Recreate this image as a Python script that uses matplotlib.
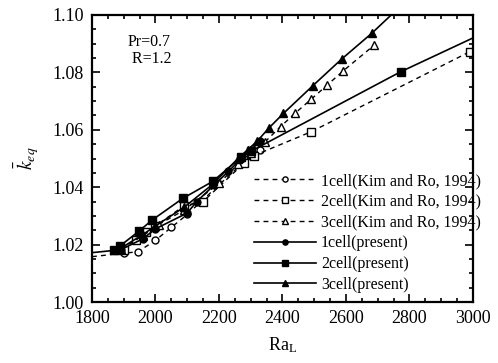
import matplotlib
matplotlib.use('Agg')
import matplotlib.pyplot as plt
from matplotlib.ticker import MultipleLocator

# Kim and Ro (1994), dashed with open markers
ra_1c_kim = [1800, 1900, 1945, 2000, 2050, 2100, 2270, 2300, 2330]
k_1c_kim = [1.0158, 1.0170, 1.0175, 1.0215, 1.0260, 1.0305, 1.0480, 1.0510, 1.0530]

ra_2c_kim = [1900, 1940, 1970, 2000, 2090, 2150, 2280, 2310, 2490, 2990]
k_2c_kim = [1.0180, 1.0215, 1.0245, 1.0265, 1.0335, 1.0350, 1.0485, 1.0510, 1.0593, 1.0872]

ra_3c_kim = [1890, 1960, 2010, 2090, 2200, 2260, 2300, 2345, 2394, 2439, 2490, 2541, 2591, 2689]
k_3c_kim = [1.0185, 1.0230, 1.0270, 1.0320, 1.0413, 1.0480, 1.0520, 1.0558, 1.0611, 1.0657, 1.0706, 1.0756, 1.0805, 1.0895]

# present results, solid with filled markers
ra_1c = [1800, 1890, 1960, 2000, 2100, 2130, 2230, 2270, 2300, 2330]
k_1c = [1.0172, 1.0182, 1.0220, 1.0255, 1.0310, 1.0350, 1.0455, 1.0500, 1.0530, 1.0560]

ra_2c = [1870, 1888, 1948, 1990, 2086, 2180, 2270, 2300, 2772, 3000]
k_2c = [1.0180, 1.0195, 1.0247, 1.0286, 1.0361, 1.0420, 1.0505, 1.0525, 1.0802, 1.0920]

ra_3c = [1880, 1960, 2000, 2090, 2180, 2260, 2290, 2320, 2358, 2403, 2495, 2586, 2681, 2800]
k_3c = [1.0180, 1.0235, 1.0265, 1.0330, 1.0410, 1.0500, 1.0530, 1.0560, 1.0607, 1.0657, 1.0753, 1.0846, 1.0936, 1.1060]

plt.rcParams['font.family'] = ['Liberation Serif', 'DejaVu Serif']
plt.rcParams['mathtext.fontset'] = 'stix'

fig = plt.figure(figsize=(4.98, 3.63), dpi=100)
ax = fig.add_axes([0.1847, 0.168, 0.765, 0.7907])

dash = (0, (3.5, 3))
ax.plot(ra_1c_kim, k_1c_kim, linestyle=dash, color='k', lw=1.0, marker='o',
        ms=5, mfc='white', mec='k', mew=1.0, markevery=slice(1, None),
        label='1cell(Kim and Ro, 1994)')
ax.plot(ra_2c_kim, k_2c_kim, linestyle=dash, color='k', lw=1.0, marker='s',
        ms=5.5, mfc='white', mec='k', mew=1.0,
        label='2cell(Kim and Ro, 1994)')
ax.plot(ra_3c_kim, k_3c_kim, linestyle=dash, color='k', lw=1.0, marker='^',
        ms=6, mfc='white', mec='k', mew=1.0,
        label='3cell(Kim and Ro, 1994)')
ax.plot(ra_1c, k_1c, '-', color='k', lw=1.2, marker='o', ms=5,
        markevery=slice(1, None), label='1cell(present)')
ax.plot(ra_2c, k_2c, '-', color='k', lw=1.2, marker='s', ms=6,
        markevery=slice(0, -1), label='2cell(present)')
ax.plot(ra_3c, k_3c, '-', color='k', lw=1.2, marker='^', ms=6,
        label='3cell(present)')

ax.set_xlim(1800, 3000)
ax.set_ylim(1.00, 1.10)
ax.xaxis.set_major_locator(MultipleLocator(200))
ax.xaxis.set_minor_locator(MultipleLocator(50))
ax.yaxis.set_major_locator(MultipleLocator(0.02))
ax.yaxis.set_minor_locator(MultipleLocator(0.005))
ax.yaxis.set_major_formatter(plt.FormatStrFormatter('%.2f'))
ax.tick_params(which='both', direction='in', top=True, right=True,
               labelsize=13, width=1.2)
ax.tick_params(which='major', length=6, pad=6)
ax.tick_params(which='minor', length=3)
for s in ax.spines.values():
    s.set_linewidth(1.6)

ax.set_xlabel(r'Ra$_\mathregular{L}$', fontsize=13, labelpad=6)
ax.set_ylabel(r'$\bar{k}_{eq}$', fontsize=14, labelpad=8)

ax.text(1913, 1.0935, 'Pr=0.7\n R=1.2', fontsize=11.5, ha='left', va='top',
        linespacing=1.1)

ax.legend(loc='lower right', bbox_to_anchor=(481 / 498, 70 / 363),
          bbox_transform=fig.transFigure, frameon=False, fontsize=11.5,
          handlelength=3.9, handletextpad=0.3, labelspacing=0.3,
          borderpad=0, borderaxespad=0, markerscale=0.75)

fig.savefig('out.png', dpi=100)
